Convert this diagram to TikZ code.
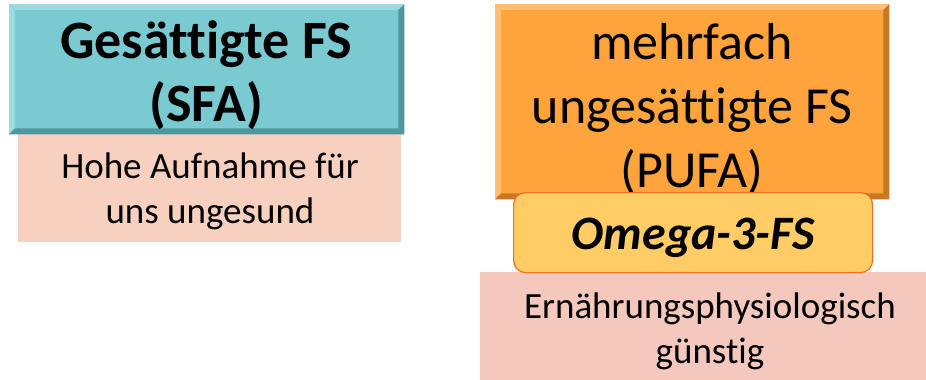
\documentclass[tikz,border=0pt]{standalone}
\usepackage{fontspec}
\setmainfont[Ligatures=NoCommon]{Carlito}
\definecolor{tealc}{RGB}{122,202,209}
\definecolor{tealdk}{RGB}{80,150,158}
\definecolor{teallt}{RGB}{155,218,224}
\definecolor{orangec}{RGB}{255,164,58}
\definecolor{orangedk}{RGB}{200,120,35}
\definecolor{orangelt}{RGB}{255,190,115}
\definecolor{pinkL}{RGB}{248,208,192}
\definecolor{pinkR}{RGB}{245,200,190}
\definecolor{omegafill}{RGB}{255,204,102}
\definecolor{omegaline}{RGB}{240,112,32}
\tikzset{
  x=1pt,y=-1pt,
  bevelbox/.style={anchor=north west, inner sep=0pt, align=center, text=black},
  pinkbox/.style={anchor=north west, inner sep=0pt, align=center, text=black},
  smalltext/.style={font=\fontsize{37}{45}\selectfont, align=center},
}
\newcommand{\bevel}[4]{% node, light, dark, width
  \fill[#2] (#1.north west) -- (#1.north east) -- ([xshift=-#4,yshift=-#4]#1.north east) -- ([xshift=#4,yshift=-#4]#1.north west) -- cycle;
  \fill[#2] (#1.north west) -- (#1.south west) -- ([xshift=#4,yshift=#4]#1.south west) -- ([xshift=#4,yshift=-#4]#1.north west) -- cycle;
  \fill[#3] (#1.north east) -- (#1.south east) -- ([xshift=-#4,yshift=#4]#1.south east) -- ([xshift=-#4,yshift=-#4]#1.north east) -- cycle;
  \fill[#3] (#1.south west) -- (#1.south east) -- ([xshift=-#4,yshift=#4]#1.south east) -- ([xshift=#4,yshift=#4]#1.south west) -- cycle;
}
\begin{document}
\begin{tikzpicture}
\useasboundingbox (0,0) rectangle (926,380);
% left column
\node[pinkbox, fill=pinkL, minimum width=383pt, minimum height=108pt] (pl) at (18,134) {};
\node[smalltext] (pltext) at (210,191) {Hohe Aufnahme für\\uns ungesund};
\node[bevelbox, fill=tealc, minimum width=395pt, minimum height=130pt] (sfa) at (9,4) {};
\bevel{sfa}{teallt}{tealdk}{6pt}
\fill[tealc] ([xshift=6pt,yshift=-6pt]sfa.north west) rectangle ([xshift=-6pt,yshift=6pt]sfa.south east);
\node[font=\fontsize{54}{63}\selectfont\bfseries, align=center] (sfatext) at (206,75) {Gesättigte FS\\(SFA)};
% right column
\node[pinkbox, fill=pinkR, minimum width=446pt, minimum height=108pt] (pr) at (480,272) {};
\node[smalltext] (prtext) at (710,331) {Ernährungsphysiologisch\\günstig};
\node[bevelbox, fill=orangec, minimum width=394pt, minimum height=195pt] (pufa) at (495,4) {};
\bevel{pufa}{orangelt}{orangedk}{6pt}
\fill[orangec] ([xshift=6pt,yshift=-6pt]pufa.north west) rectangle ([xshift=-6pt,yshift=6pt]pufa.south east);
\node[font=\fontsize{52}{64}\selectfont, align=center] (pufatext) at (692,109) {mehrfach\\ungesättigte FS\\(PUFA)};
\node[anchor=north west, draw=omegaline, line width=1.2pt, fill=omegafill, rounded corners=12pt, minimum width=359pt, minimum height=80pt, inner sep=0pt] (omega) at (513,192) {};
\node[font=\fontsize{48}{50}\selectfont\bfseries\itshape] (omegatext) at ([yshift=-5pt]omega.center) {Omega-3-FS};
\end{tikzpicture}
\end{document}
